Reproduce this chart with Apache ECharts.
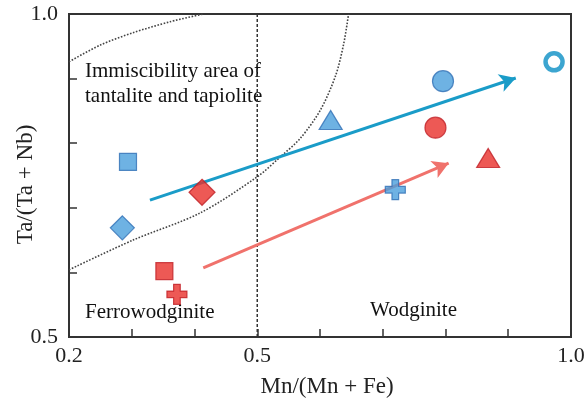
<!DOCTYPE html>
<html>
<head>
<meta charset="utf-8">
<script src="https://cdn.jsdelivr.net/npm/echarts@6/dist/echarts.min.js"></script>
<style>
html,body{margin:0;padding:0;background:#fff;}
#chart{width:587px;height:401px;}
</style>
</head>
<body>
<div id="chart"></div>
<script>
// tick labels shown on the axes
var xTickLabels = ['0.2', '0.5', '1.0'];
var yTickLabels = ['0.5', '1.0'];

// dotted boundary curves, [Mn/(Mn+Fe), Ta/(Ta+Nb)]
var upperCurve = [[0.2, 0.926], [0.25, 0.952], [0.302, 0.971], [0.361, 0.988], [0.414, 1.0]];
var lowerCurve = [[0.2, 0.604], [0.302, 0.650], [0.409, 0.692], [0.5, 0.748], [0.537, 0.779],
  [0.569, 0.808], [0.601, 0.852], [0.625, 0.905], [0.638, 0.955], [0.6455, 1.0]];
var divider = [[0.5, 0.5], [0.5, 1.0]];

// samples
var blueSquare = [[0.294, 0.771]];
var blueDiamond = [[0.285, 0.669]];
var blueTriangle = [[0.617, 0.836]];
var blueCircle = [[0.796, 0.896]];
var blueCross = [[0.72, 0.728]];
var blueRing = [[0.973, 0.926]];
var redDiamond = [[0.412, 0.724]];
var redSquare = [[0.352, 0.602]];
var redCross = [[0.372, 0.566]];
var redCircle = [[0.784, 0.824]];
var redTriangle = [[0.868, 0.777]];

// trend arrows, [start, end]
var blueArrow = [[0.329, 0.712], [0.912, 0.901]];
var redArrow = [[0.414, 0.607], [0.805, 0.769]];

var serif = '"Liberation Serif", "DejaVu Serif", serif';
var crossPath = 'path://M2,0H4V2H6V4H4V6H2V4H0V2H2Z';

var blueStyle = { color: '#4a9fdc', borderColor: '#2f6fb5', borderWidth: 1.2 };
var redStyle = { color: '#e8302a', borderColor: '#c01f25', borderWidth: 1.2 };

function pts(name, data, symbol, size, style) {
  return {
    name: name, type: 'scatter', data: data, symbol: symbol, symbolSize: size,
    itemStyle: style, z: 5
  };
}
function curve(data) {
  return {
    type: 'line', data: data, smooth: 0.3, symbol: 'none', silent: true,
    lineStyle: { color: '#444', width: 1.6, type: 'dotted' }, z: 2
  };
}
function arrow(data, color) {
  return {
    type: 'line', data: [], silent: true,
    markLine: {
      silent: true, symbol: ['none', 'arrow'], symbolSize: [14, 16],
      label: { show: false },
      lineStyle: { color: color, width: 3, type: 'solid' },
      data: [[{ coord: data[0] }, { coord: data[1] }]]
    }, z: 4
  };
}
function pick(list) {
  return function (v) {
    var s = v.toFixed(1);
    return list.indexOf(s) >= 0 ? s : '';
  };
}

var myChart = echarts.init(document.getElementById('chart'));
myChart.setOption({
  animation: false,
  backgroundColor: '#fff',
  grid: {
    left: 69, right: 16, top: 14, bottom: 64, outerBoundsMode: 'none', containLabel: false,
    show: true, borderColor: '#333', borderWidth: 2
  },
  xAxis: {
    type: 'value', min: 0.2, max: 1.0, interval: 0.1,
    name: 'Mn/(Mn + Fe)', nameLocation: 'middle', nameGap: 38, nameMoveOverlap: false,
    nameTextStyle: { fontFamily: serif, fontSize: 23, color: '#222', padding: [0, 0, 0, 14] },
    axisLine: { lineStyle: { color: '#333', width: 2 } },
    axisTick: { inside: true, length: 8, lineStyle: { color: '#333', width: 1.5 } },
    axisLabel: { formatter: pick(xTickLabels), fontFamily: serif, fontSize: 22, color: '#222', margin: 8 },
    splitLine: { show: false }
  },
  yAxis: {
    type: 'value', min: 0.5, max: 1.0, interval: 0.1,
    name: 'Ta/(Ta + Nb)', nameLocation: 'middle', nameGap: 32, nameMoveOverlap: false,
    nameTextStyle: { fontFamily: serif, fontSize: 23, color: '#222', padding: [0, 18, 0, 0] },
    axisLine: { show: true, lineStyle: { color: '#333', width: 2 } },
    axisTick: { show: true, inside: true, length: 8, lineStyle: { color: '#333', width: 1.5 } },
    axisLabel: { formatter: pick(yTickLabels), fontFamily: serif, fontSize: 22, color: '#222', margin: 11 },
    splitLine: { show: false }
  },
  graphic: [
    { type: 'text', left: 85, top: 59, style: { text: 'Immiscibility area of\ntantalite and tapiolite', fontFamily: serif, fontSize: 21, lineHeight: 25, fill: '#111' } },
    { type: 'text', left: 85, top: 302, style: { text: 'Ferrowodginite', fontFamily: serif, fontSize: 21, fill: '#111' } },
    { type: 'text', left: 370, top: 300, style: { text: 'Wodginite', fontFamily: serif, fontSize: 21, fill: '#111' } }
  ],
  series: [
    curve(upperCurve),
    curve(lowerCurve),
    { type: 'line', data: divider, symbol: 'none', silent: true, lineStyle: { color: '#333', width: 1.5, type: [3, 2] }, z: 2 },
    arrow(blueArrow, '#1a9cc8'),
    arrow(redArrow, '#f0726c'),
    pts('blue square', blueSquare, 'rect', 17, blueStyle),
    pts('blue diamond', blueDiamond, 'diamond', [24, 24], blueStyle),
    pts('blue triangle', blueTriangle, 'triangle', [23, 19], blueStyle),
    pts('blue circle', blueCircle, 'circle', 21, blueStyle),
    pts('blue cross', blueCross, crossPath, 20, blueStyle),
    pts('blue ring', blueRing, 'circle', 17, { color: '#fff', borderColor: '#0b8fc4', borderWidth: 4.5 }),
    pts('red diamond', redDiamond, 'diamond', [26, 26], redStyle),
    pts('red square', redSquare, 'rect', 17, redStyle),
    pts('red cross', redCross, crossPath, 20, redStyle),
    pts('red circle', redCircle, 'circle', 21, redStyle),
    pts('red triangle', redTriangle, 'triangle', [23, 19], redStyle)
  ]
});
</script>
</body>
</html>
